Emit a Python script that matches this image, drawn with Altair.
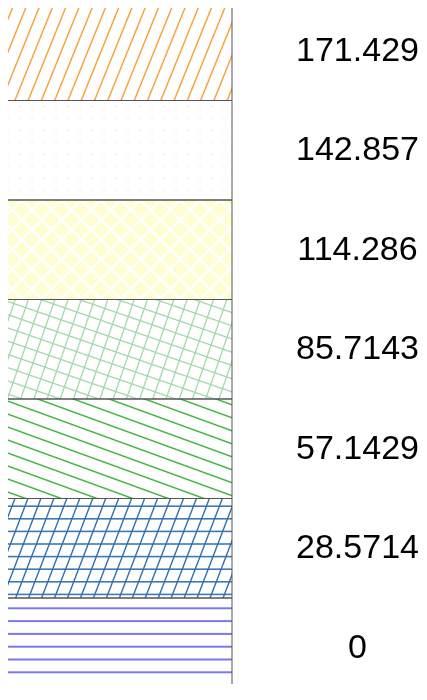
import math
import altair as alt
import pandas as pd

# ---- data ----
bin_lo = [0, 28.5714, 57.1429, 85.7143, 114.286, 142.857, 171.429]
bin_hi = [28.5714, 57.1429, 85.7143, 114.286, 142.857, 171.429, 200]
labels = ["0", "28.5714", "57.1429", "85.7143", "114.286", "142.857", "171.429"]

df = pd.DataFrame({"idx": list(range(7)), "lo": bin_lo, "hi": bin_hi, "label": labels})

PLOT_W = 425
PLOT_H = 696.5
BOX_W = 230
BOX_H = PLOT_H * (bin_hi[0] - bin_lo[0]) / 200.0


def rgba(hexc, a):
    h = hexc.lstrip("#")
    r, g, b = int(h[0:2], 16), int(h[2:4], 16), int(h[4:6], 16)
    return f"rgba({r},{g},{b},{a})"


def hatch(angle, spacing, color, bg=None, lw=1.4, phase=0.0, w=BOX_W, h=BOX_H):
    """Linear gradient with hard-ish stops that draws parallel hatch lines."""
    if bg is None:
        bg = rgba(color, 0)
    a = math.radians(angle)
    dx, dy = math.cos(a), -math.sin(a)
    nx, ny = -dy, dx
    ss = [cx * nx + cy * ny for cx, cy in [(0, 0), (w, 0), (0, h), (w, h)]]
    smin, smax = min(ss), max(ss)
    gx, gy = w * nx, h * ny
    g2 = gx * gx + gy * gy
    span = smax - smin

    def t(s):
        return round(min(1.0, max(0.0, (s - smin) / span)), 5)

    half = lw / 2.0
    stops = [{"offset": 0, "color": bg}]
    k0 = math.floor((smin - phase) / spacing) - 1
    k1 = math.ceil((smax - phase) / spacing) + 1
    for k in range(k0, k1 + 1):
        c = phase + k * spacing
        if c + half + 0.5 < smin or c - half - 0.5 > smax:
            continue
        for s, col in [(c - half - 0.5, bg), (c - half + 0.5, color),
                       (c + half - 0.5, color), (c + half + 0.5, bg)]:
            stops.append({"offset": t(s), "color": col})
    return {
        "gradient": "linear",
        "x1": gx * smin / g2, "y1": gy * smin / g2,
        "x2": gx * smax / g2, "y2": gy * smax / g2,
        "stops": stops,
    }


WHITE = "#ffffff"
patterns = {
    0: [(hatch(0, 12.8, "#7a7aea", bg=WHITE, lw=2.0, phase=10.3), None)],
    1: [(hatch(0, 12.6, "#3d7ab8", bg=WHITE, lw=1.6, phase=7.7), None),
        (hatch(69, 12.1, "#346ea8", lw=1.4), None)],
    2: [(hatch(-20, 12.2, "#45b545", bg=WHITE, lw=1.5), None)],
    3: [(hatch(-19, 12.5, "#a2d8aa", bg=WHITE, lw=1.3), None),
        (hatch(71, 12.5, "#a2d8aa", lw=1.3), None)],
    4: [("#fefed0", None),
        (hatch(45, 14, WHITE, lw=2.6), None),
        (hatch(-45, 14, WHITE, lw=2.6), None)],
    5: [(hatch(90, 12, "#faeab8", bg=WHITE, lw=1.4, phase=6), None),
        (hatch(0, 12, "#000000", bg=WHITE, lw=1.4, phase=6), "screen")],
    6: [(hatch(68, 12.3, "#f5a540", bg=WHITE, lw=1.5), None)],
}

y_scale = alt.Scale(domain=[0, 200])
base = alt.Chart(df).encode(
    y=alt.Y("hi:Q", scale=y_scale, axis=None),
    y2="lo:Q",
    x=alt.value(0),
    x2=alt.value(BOX_W),
)

layers = []
for k in range(7):
    for fill, blend in patterns[k]:
        kw = {"fill": fill}
        if blend:
            kw["blend"] = blend
        layers.append(base.transform_filter(alt.datum.idx == k).mark_rect(**kw))

borders = base.mark_rect(fill=WHITE, fillOpacity=0, stroke="#555555", strokeWidth=1)

text = alt.Chart(df).transform_calculate(
    mid="(datum.lo + datum.hi) / 2"
).mark_text(
    align="center", baseline="middle", fontSize=34, font="Liberation Sans", color="#000000"
).encode(
    y=alt.Y("mid:Q", scale=y_scale, axis=None),
    x=alt.value(355.5),
    text="label:N",
)

chart = alt.layer(*layers, borders, text).properties(
    width=PLOT_W,
    height=PLOT_H,
    autosize="none",
    padding={"left": -6, "top": -7, "right": -8, "bottom": -14},
).configure_view(strokeWidth=0)

chart.save("out.html", embed_options={"renderer": "svg", "actions": False})
